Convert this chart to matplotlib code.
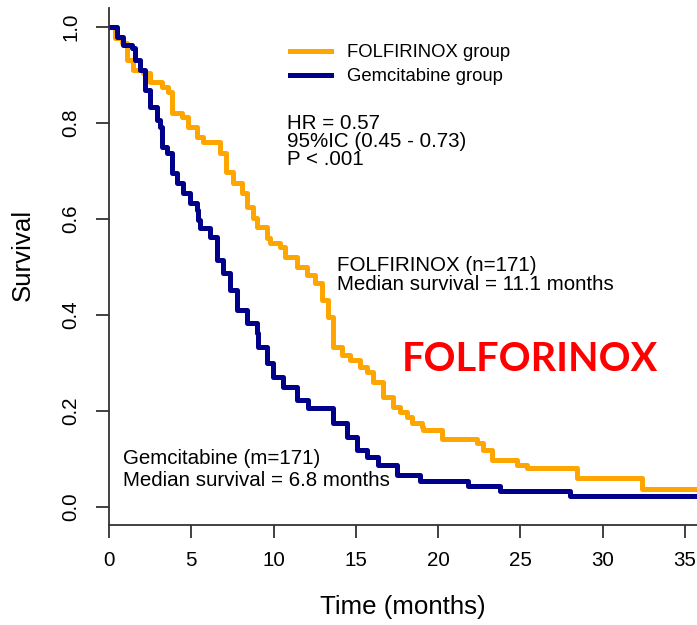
import matplotlib
matplotlib.use("Agg")
import matplotlib.pyplot as plt

plt.rcParams['font.family'] = ['Liberation Sans', 'DejaVu Sans']

# --- Kaplan-Meier steps (time in months, survival)
folfirinox_t = [0, 0.36, 0.77, 1.08, 1.46, 2.07, 2.49, 3.2, 3.58, 3.81, 4.42, 4.8,
                5.33, 5.71, 6.74, 7.1, 7.53, 8.06, 8.37, 8.75, 8.97, 9.58, 9.78,
                10.39, 10.69, 11.4, 12.01, 12.52, 12.92, 13.32, 13.63, 14.14, 14.64,
                15.25, 15.66, 16.06, 16.66, 17.27, 17.68, 18.09, 18.39, 19.0, 19.1,
                20.21, 22.34, 22.74, 23.25, 24.77, 25.38, 28.41, 32.36, 36.0]
folfirinox_s = [1.0, 0.976, 0.966, 0.931, 0.910, 0.904, 0.885, 0.875, 0.864, 0.820, 0.812, 0.792,
                0.771, 0.760, 0.737, 0.698, 0.674, 0.653, 0.625, 0.601, 0.583, 0.560, 0.549,
                0.542, 0.521, 0.500, 0.483, 0.466, 0.431, 0.396, 0.333, 0.316, 0.306,
                0.292, 0.281, 0.260, 0.229, 0.208, 0.198, 0.187, 0.174, 0.167, 0.160,
                0.142, 0.132, 0.118, 0.097, 0.087, 0.080, 0.059, 0.038, 0.038]

gemcitabine_t = [0, 0.5, 0.85, 1.38, 1.58, 1.88, 2.19, 2.49, 2.9, 3.1, 3.2, 3.51, 3.81,
                 4.11, 4.5, 4.92, 5.33, 5.41, 5.53, 6.14, 6.54, 6.93, 7.35, 7.76, 8.37,
                 8.97, 9.07, 9.58, 9.98, 10.59, 11.4, 12.11, 13.63, 14.44, 15.05, 15.66,
                 16.36, 17.48, 18.89, 21.83, 23.75, 28.0, 36.0]
gemcitabine_s = [1.0, 0.979, 0.962, 0.956, 0.931, 0.910, 0.868, 0.833, 0.806, 0.792, 0.750, 0.737, 0.695,
                 0.674, 0.653, 0.632, 0.618, 0.597, 0.581, 0.562, 0.514, 0.487, 0.452, 0.410, 0.383,
                 0.362, 0.333, 0.299, 0.271, 0.250, 0.222, 0.205, 0.174, 0.146, 0.118, 0.104,
                 0.087, 0.066, 0.054, 0.043, 0.033, 0.022, 0.022]

xticks = [0, 5, 10, 15, 20, 25, 30, 35]
yticks = [0.0, 0.2, 0.4, 0.6, 0.8, 1.0]

orange = '#FFA500'
navy = '#00008B'

W, H = 697, 625
fig = plt.figure(figsize=(W / 100, H / 100), dpi=100)
ax = fig.add_axes([109 / W, (H - 525) / H, 1 - 109 / W, (525 - 7.5) / H])

ax.step(folfirinox_t, folfirinox_s, where='post', color=orange, lw=3.6,
        label='FOLFIRINOX group')
ax.step(gemcitabine_t, gemcitabine_s, where='post', color=navy, lw=3.6,
        label='Gemcitabine group')

ax.set_xlim(0, 35.73)
ax.set_ylim(-0.038, 1.04)

for side in ['top', 'right']:
    ax.spines[side].set_visible(False)
for side in ['left', 'bottom']:
    ax.spines[side].set_color('#333333')
    ax.spines[side].set_linewidth(1.3)

ax.set_xticks(xticks)
ax.set_xticklabels([str(v) for v in xticks])
ax.set_yticks(yticks)
ax.set_yticklabels(['%.1f' % v for v in yticks], rotation=90, va='center')
ax.tick_params(length=9.4, width=1.3, color='#333333', labelsize=14.8)
ax.tick_params(axis='x', pad=9)
ax.tick_params(axis='y', pad=11)

ax.set_xlabel('Time (months)', fontsize=18.6)
ax.xaxis.set_label_coords(0.5, -0.158)
ax.xaxis.label.set_va('center')
ax.set_ylabel('Survival', fontsize=18.6)
ax.yaxis.set_label_coords(-0.147, 0.522)
ax.yaxis.label.set_va('center')

ax.legend(loc='upper left', bbox_to_anchor=(290 / W, 1 - 44 / H),
          bbox_transform=fig.transFigure, frameon=False, fontsize=13.3,
          handlelength=2.2, handletextpad=0.9, labelspacing=0.4,
          borderpad=0, borderaxespad=0)

# --- annotations
ax.text(10.81, 0.799, 'HR = 0.57', fontsize=14.8, va='center')
ax.text(10.81, 0.761, '95%IC (0.45 - 0.73)', fontsize=14.8, va='center')
ax.text(10.81, 0.724, 'P < .001', fontsize=14.8, va='center')

ax.text(13.83, 0.503, 'FOLFIRINOX (n=171)', fontsize=14.8, va='center')
ax.text(13.83, 0.462, 'Median survival = 11.1 months', fontsize=14.8, va='center')

ax.text(0.83, 0.101, 'Gemcitabine (m=171)', fontsize=14.8, va='center')
ax.text(0.83, 0.054, 'Median survival = 6.8 months', fontsize=14.8, va='center')

ax.text(17.77, 0.306, 'FOLFORINOX', fontsize=28.5, fontweight='bold',
        color='#FF0000', family='Lato', va='center')

fig.savefig('out.png', dpi=100)
